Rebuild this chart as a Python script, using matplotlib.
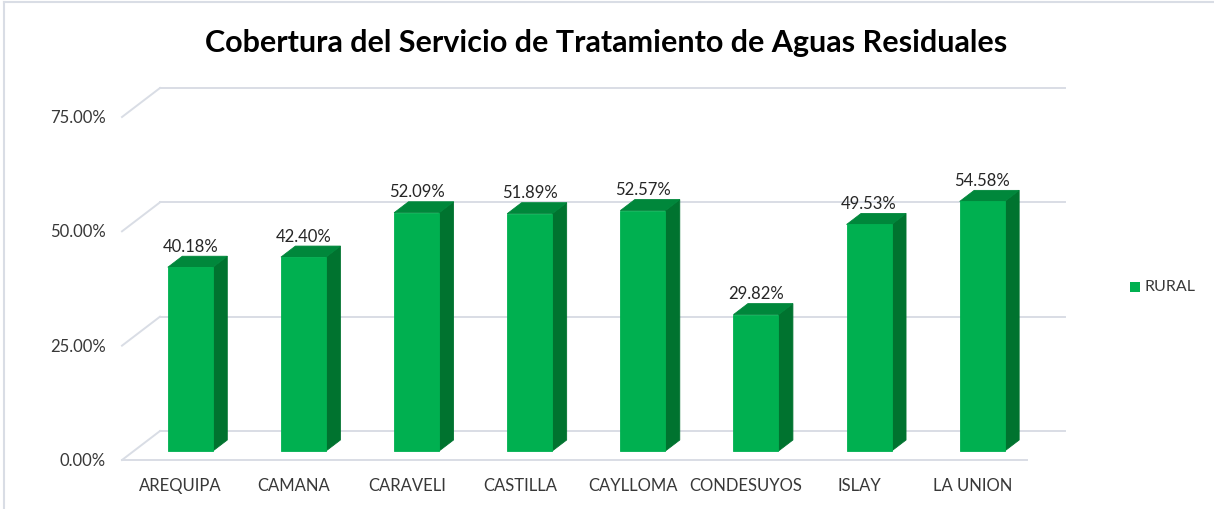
import matplotlib
matplotlib.use("Agg")
import matplotlib.pyplot as plt
from matplotlib.patches import Polygon, Rectangle
from matplotlib.lines import Line2D

# ---- data ----
categories = ["AREQUIPA", "CAMANA", "CARAVELI", "CASTILLA", "CAYLLOMA",
              "CONDESUYOS", "ISLAY", "LA UNION"]
rural = [40.18, 42.40, 52.09, 51.89, 52.57, 29.82, 49.53, 54.58]
yticks = [0, 25, 50, 75]
series_name = "RURAL"
title = "Cobertura del Servicio de Tratamiento de Aguas Residuales"

# ---- style ----
W, H = 1214, 510
FONT = "Lato"
C_FRONT = "#00B050"
C_SIDE = "#00732F"
C_TOP = "#00873B"
C_GRID = "#D9DDE5"
C_TEXT = "#383838"

fig = plt.figure(figsize=(W / 100, H / 100), dpi=100)
fig.patch.set_facecolor("white")

# axes = front plane of the 3D box
left_px, right_px, bottom_px, top_px = 122, 1027, 461, 118
ax = fig.add_axes([left_px / W, 1 - bottom_px / H, (right_px - left_px) / W, (bottom_px - top_px) / H])
n = len(categories)
ax.set_xlim(-0.5, n - 0.5)
ax.set_ylim(0, 75)
ax.axis("off")

# depth offsets (in data units)
px_per_x = (right_px - left_px) / n
px_per_y = (bottom_px - top_px) / 75
DX = 38 / px_per_x
DY = 29 / px_per_y

# gridlines: diagonal on the left wall + back wall lines
for v in yticks:
    ax.add_line(Line2D([-0.5, -0.5 + DX], [v, v + DY], color=C_GRID, lw=1.4, clip_on=False, zorder=1))
    ax.add_line(Line2D([-0.5 + DX, n - 0.5 + DX], [v + DY, v + DY], color=C_GRID, lw=1.4, clip_on=False, zorder=1))
    ax.text(-0.5 - 16 / px_per_x, v, f"{v:.2f}%", ha="right", va="center",
            fontsize=12, family=FONT, color=C_TEXT)
# floor front edge
ax.add_line(Line2D([-0.5, n - 0.5], [0, 0], color=C_GRID, lw=1.4, clip_on=False, zorder=1))

# bars
bw = 45 / px_per_x
f0, f1 = 0.31, 0.69
ddx, ddy = (f1 - f0) * DX, (f1 - f0) * DY
for i, (cat, v) in enumerate(zip(categories, rural)):
    xl = i - bw / 2 + f0 * DX
    xr = xl + bw
    y0 = f0 * DY
    yt = y0 + v
    ax.add_patch(Polygon([(xr, y0), (xr + ddx, y0 + ddy), (xr + ddx, yt + ddy), (xr, yt)],
                         closed=True, facecolor=C_SIDE, edgecolor=C_SIDE, lw=0.6,
                         clip_on=False, zorder=3))
    ax.add_patch(Polygon([(xl, yt), (xr, yt), (xr + ddx, yt + ddy), (xl + ddx, yt + ddy)],
                         closed=True, facecolor=C_TOP, edgecolor=C_TOP, lw=0.6,
                         clip_on=False, zorder=3))
    ax.add_patch(Rectangle((xl, y0), bw, v, facecolor=C_FRONT, edgecolor=C_FRONT, lw=0.6,
                           clip_on=False, zorder=4))
    ax.text((xl + xr) / 2, yt + ddy + 0.5, f"{v:.2f}%", ha="center", va="bottom",
            fontsize=12, family=FONT, color="#262626", zorder=5)
    ax.text(i + 2 / px_per_x, -25 / px_per_y, cat, ha="center", va="center",
            fontsize=12, family=FONT, color=C_TEXT)

# legend
fig.patches.append(Rectangle((1130 / W, 1 - 293 / H), 10 / W, 10 / H, transform=fig.transFigure,
                             facecolor=C_FRONT, edgecolor="none"))
fig.text(1145 / W, 1 - 287 / H, series_name, ha="left", va="center", fontsize=11.5, family=FONT,
         color=C_TEXT)

# title
fig.text(606 / W, 1 - 43 / H, title, ha="center", va="center", fontsize=22, family=FONT,
         fontweight="bold", color="black")

# chart border (top and left visible)
fig.lines.append(Line2D([4 / W, 4 / W], [0, 1 - 3 / H], transform=fig.transFigure, color=C_GRID, lw=1.5))
fig.lines.append(Line2D([4 / W, 1], [1 - 3 / H, 1 - 3 / H], transform=fig.transFigure, color=C_GRID, lw=1.5))

fig.savefig("out.png", dpi=100, facecolor="white")
